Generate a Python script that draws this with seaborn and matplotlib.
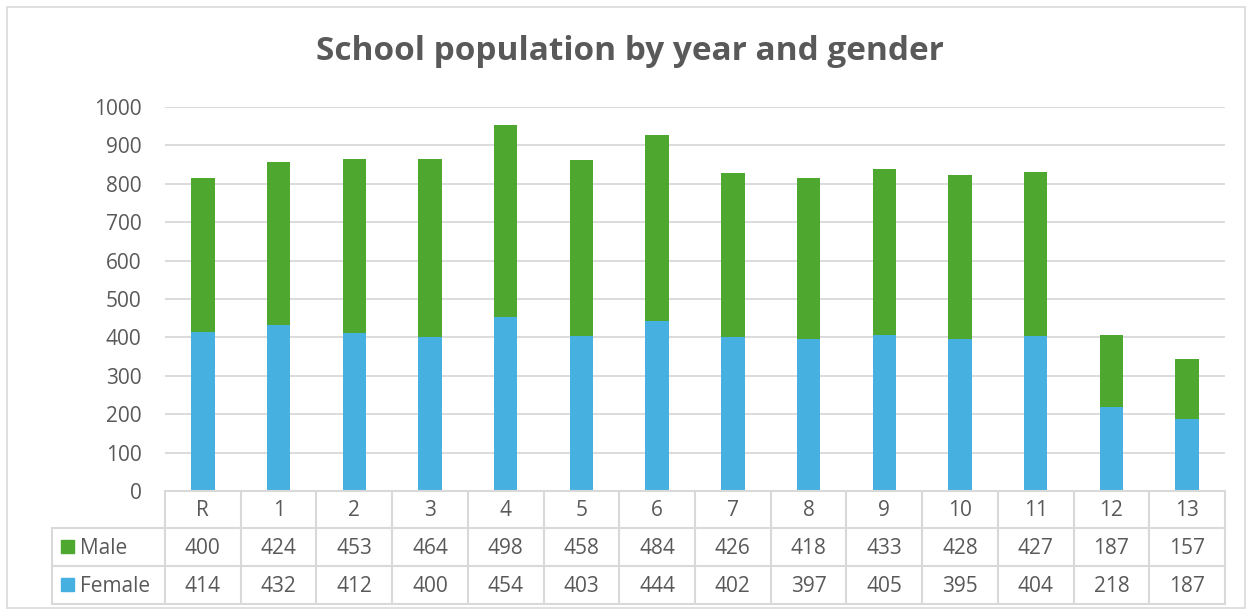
import matplotlib
matplotlib.use("Agg")
import matplotlib.pyplot as plt
from matplotlib.patches import Rectangle
from matplotlib.lines import Line2D
import seaborn as sns
import pandas as pd

years = ["R", "1", "2", "3", "4", "5", "6", "7", "8", "9", "10", "11", "12", "13"]
male = [400, 424, 453, 464, 498, 458, 484, 426, 418, 433, 428, 427, 187, 157]
female = [414, 432, 412, 400, 454, 403, 444, 402, 397, 405, 395, 404, 218, 187]

GREEN = "#4EA72E"
BLUE = "#46B1E1"
TXT = "#595959"
GRID = "#D9D9D9"
FS = 15

sns.set_theme(style="white")
plt.rcParams["font.family"] = ["Open Sans", "DejaVu Sans"]

W, H = 1252, 614
fig = plt.figure(figsize=(W / 100, H / 100), dpi=100)
L, R, B, T = 165, 1225, 491, 107
ax = fig.add_axes([L / W, 1 - B / H, (R - L) / W, (B - T) / H])

df = pd.DataFrame({"year": years, "male": male, "female": female})
df["total"] = df["male"] + df["female"]

sns.barplot(data=df, x="year", y="total", color=GREEN, width=0.31, ax=ax,
            saturation=1, order=years, linewidth=0)
sns.barplot(data=df, x="year", y="female", color=BLUE, width=0.31, ax=ax,
            saturation=1, order=years, linewidth=0)

ax.set_xlim(-0.5, len(years) - 0.5)
ax.set_ylim(0, 1000)
ax.set_yticks(range(0, 1001, 100))
ax.yaxis.grid(True, color=GRID, linewidth=1.3)
ax.set_axisbelow(True)
for s in ax.spines.values():
    s.set_visible(False)
ax.set_xlabel("")
ax.set_ylabel("")
ax.set_xticks([])
ax.tick_params(axis="y", length=0, pad=17, labelsize=FS, labelcolor=TXT)


def fy(py):
    return 1 - py / H


def fx(px):
    return px / W


fig.text(fx(630), fy(52), "School population by year and gender", fontsize=24,
         fontweight="bold", color=TXT, ha="center", va="center")

# data table
row_y = [491, 528, 566, 604]
table_left = 52
lc = "#D9D9D9"
lw = 1.5
fig.add_artist(Line2D([fx(L), fx(R)], [fy(row_y[0])] * 2, color=lc, lw=lw))
for yy in row_y[1:]:
    fig.add_artist(Line2D([fx(table_left), fx(R)], [fy(yy)] * 2, color=lc, lw=lw))
fig.add_artist(Line2D([fx(table_left)] * 2, [fy(row_y[1]), fy(row_y[3])], color=lc, lw=lw))
n = len(years)
cw = (R - L) / n
for i in range(n + 1):
    xx = L + i * cw
    fig.add_artist(Line2D([fx(xx)] * 2, [fy(row_y[0]), fy(row_y[3])], color=lc, lw=lw))

for i, yv in enumerate(years):
    xc = fx(L + (i + 0.5) * cw)
    fig.text(xc, fy((row_y[0] + row_y[1]) / 2 + 1), yv,
             ha="center", va="center", fontsize=FS, color=TXT)
    fig.text(xc, fy((row_y[1] + row_y[2]) / 2 + 1), str(male[i]),
             ha="center", va="center", fontsize=FS, color=TXT)
    fig.text(xc, fy((row_y[2] + row_y[3]) / 2 + 1), str(female[i]),
             ha="center", va="center", fontsize=FS, color=TXT)

for k, (name, col) in enumerate([("Male", GREEN), ("Female", BLUE)]):
    yc = (row_y[1 + k] + row_y[2 + k]) / 2
    fig.add_artist(Rectangle((fx(61), fy(yc + 6)), 13 / W, 13 / H, color=col,
                             transform=fig.transFigure))
    fig.text(fx(80), fy(yc + 1), name, ha="left", va="center", fontsize=FS, color=TXT)

fig.add_artist(Rectangle((fx(7), fy(608)), (1245 - 7) / W, (608 - 7) / H, fill=False,
                         edgecolor="#D9D9D9", lw=1.2, transform=fig.transFigure))

fig.savefig("out.png", dpi=100, facecolor="white")
